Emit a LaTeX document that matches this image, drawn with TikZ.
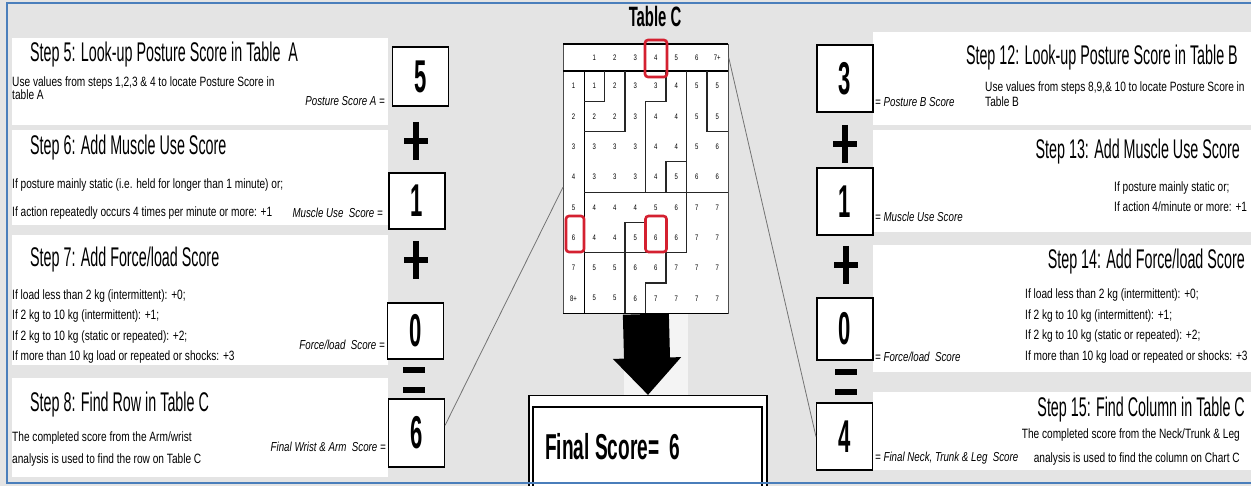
\documentclass[tikz,border=0pt]{standalone}
\usepackage{fontspec}
\usepackage{tikz}
\usetikzlibrary{arrows.meta,positioning,calc}
\setmainfont{Liberation Sans}
\newfontfamily\headfnt[FakeStretch=0.53]{Liberation Sans}
\newfontfamily\bodyfnt[FakeStretch=0.75]{Liberation Sans}
\newfontfamily\numfnt[FakeStretch=0.48]{Liberation Sans}
\definecolor{bggray}{HTML}{E4E4E4}
\definecolor{frameblue}{HTML}{4A7EBB}
\definecolor{pickred}{HTML}{D42030}

\begin{document}
\begin{tikzpicture}[x=1pt, y=-1pt,
  panel/.style={fill=white},
  steptitle/.style={font=\fontsize{27}{29}\selectfont\headfnt, inner sep=0pt},
  stepbody/.style={font=\fontsize{13.5}{#1}\selectfont\bodyfnt, align=left, inner sep=0pt},
  scorelabel/.style={font=\fontsize{13}{15}\selectfont\bodyfnt\itshape, inner sep=0pt},
  scorebox/.style={draw=black, line width=1.1pt, fill=white, minimum width=56pt,
                   minimum height=#1, inner sep=0pt,
                   font=\fontsize{46}{46}\selectfont\numfnt\bfseries},
  opbar/.style={line width=6pt},
  cell/.style={font=\fontsize{8}{8}\selectfont\bodyfnt, inner sep=0pt},
  zone/.style={line width=1.2pt, black!85},
  pick/.style={draw=pickred, line width=2.6pt, rounded corners=3pt},
  link/.style={draw=black!55, line width=0.8pt},
]
\useasboundingbox (0,0) rectangle (1251,486);
\fill[bggray] (0,0) rectangle (1251,486);

% Left panels
\fill[panel] (12,38) rectangle (388,125);
\fill[panel] (12,130) rectangle (388,225);
\fill[panel] (12,235) rectangle (388,365);
\fill[panel] (12,378) rectangle (388,477);

\node[steptitle, anchor=west] (t5) at (30,55) {Step 5: Look-up Posture Score in Table\ \ A};
\node[stepbody=13, anchor=west] (d5) at (12,88.5) {Use values from steps 1,2,3 \& 4 to locate Posture Score in\\table A};
\node[scorelabel, anchor=east] (l5) at (385,101) {Posture Score A =};

\node[steptitle, anchor=west] (t6) at (30,148) {Step 6: Add Muscle Use Score};
\node[stepbody=28, anchor=west] (d6) at (12,199) {If posture mainly static (i.e. held for longer than 1 minute) or;\\If action repeatedly occurs 4 times per minute or more: +1};
\node[scorelabel, anchor=east] (l6) at (383,213) {Muscle Use\ \ Score =};

\node[steptitle, anchor=west] (t7) at (30,260) {Step 7: Add Force/load Score};
\node[stepbody=20.3, anchor=west] (d7) at (12,326.5) {If load less than 2 kg (intermittent): +0;\\If 2 kg to 10 kg (intermittent): +1;\\If 2 kg to 10 kg (static or repeated): +2;\\If more than 10 kg load or repeated or shocks: +3};
\node[scorelabel, anchor=east] (l7) at (385,345) {Force/load\ \ Score =};

\node[steptitle, anchor=west] (t8) at (30,405) {Step 8: Find Row in Table C};
\node[stepbody=22, anchor=west] (d8) at (12,449) {The completed score from the Arm/wrist\\analysis is used to find the row on Table C};
\node[scorelabel, anchor=east] (l8) at (386,447) {Final Wrist \& Arm\ \ Score =};

% Left scores
\node[scorebox=59pt] (b5) at (420.5,76.5) {5};
\node[scorebox=56pt] (b6) at (417,201) {1};
\node[scorebox=56pt] (b7) at (415.5,331) {0};
\node[scorebox=68pt] (b8) at (416.5,433) {6};

% Right panels
\fill[panel] (873,32) rectangle (1251,125);
\fill[panel] (873,130) rectangle (1251,232);
\fill[panel] (873,245) rectangle (1251,372);
\fill[panel] (873,392) rectangle (1251,470);

\node[steptitle, anchor=east] (t12) at (1238,58) {Step 12: Look-up Posture Score in Table B};
\node[stepbody=15, anchor=west] (d12) at (985,94.5) {Use values from steps 8,9,\& 10 to locate Posture Score in\\Table B};
\node[scorelabel, anchor=west] (l12) at (875,102) {= Posture B Score};

\node[steptitle, anchor=east] (t13) at (1240,152) {Step 13: Add Muscle Use Score};
\node[stepbody=20, anchor=west] (d13) at (1114,197) {If posture mainly static or;\\If action 4/minute or more: +1};
\node[scorelabel, anchor=west] (l13) at (875,217) {= Muscle Use Score};

\node[steptitle, anchor=east] (t14) at (1245,262) {Step 14: Add Force/load Score};
\node[stepbody=20.7, anchor=west] (d14) at (1025,326) {If load less than 2 kg (intermittent): +0;\\If 2 kg to 10 kg (intermittent): +1;\\If 2 kg to 10 kg (static or repeated): +2;\\If more than 10 kg load or repeated or shocks: +3};
\node[scorelabel, anchor=west] (l14) at (875,357) {= Force/load\ \ Score};

\node[steptitle, anchor=east] (t15) at (1245,410) {Step 15: Find Column in Table C};
\node[stepbody=24, align=right, anchor=east] (d15) at (1240,447) {The completed score from the Neck/Trunk \& Leg\\analysis is used to find the column on Chart C};
\node[scorelabel, anchor=west] (l15) at (875,458) {= Final Neck, Trunk \& Leg\ \ Score};

% Right scores
\node[scorebox=67pt] (b12) at (845,78.5) {3};
\node[scorebox=67pt] (b13) at (845,201.5) {1};
\node[scorebox=62pt] (b14) at (845,329) {0};
\node[scorebox=67pt] (b15) at (844.5,436.5) {4};

% Operators
\foreach \px/\py in {416/141, 416/260, 845/144, 846/265} {
  \draw[opbar] (\px,\py-19) -- (\px,\py+19);
  \draw[opbar] (\px-12,\py) -- (\px+12,\py);
}
\foreach \px/\py in {414/370, 846/372.5} {
  \draw[opbar] (\px-11,\py) -- (\px+11,\py);
  \draw[opbar] (\px-11,\py+20) -- (\px+11,\py+20);
}

% Table C
\node[font=\fontsize{28}{28}\selectfont\headfnt\bfseries, inner sep=0pt] (tct) at (655,16) {Table C};
\fill[white!60!bggray] (624,313) rectangle (688,397);
\node[draw=black!70, line width=0.7pt, fill=white, minimum width=165pt, minimum height=269.4pt,
      inner sep=0pt, anchor=north west] (tc) at (563,44) {};
\draw[line width=1.6pt] (563,44) -- (728,44);
\draw[line width=1.6pt] (563,71) -- (728,71);
\draw[line width=1.6pt] (563,313.4) -- (728,313.4);
\draw[line width=1pt] (584,71) -- (584,313.4);

\foreach \t [count=\c] in {1,2,3,4,5,6,7+}
  \node[cell] (h\c) at ({584+20.5*(\c-0.5)},57.5) {\t};
\foreach \t [count=\r] in {1,2,3,4,5,6,7,8+}
  \node[cell] (r\r) at (573.5,{71+30.3*(\r-0.5)}) {\t};
\foreach \vals [count=\r] in {{1,2,3,3,4,5,5},{2,2,3,4,4,5,5},{3,3,3,4,4,5,6},{3,3,3,4,5,6,6},
                              {4,4,4,5,6,7,7},{4,4,5,6,6,7,7},{5,5,6,6,7,7,7},{5,5,6,7,7,7,7}}
  \foreach \v [count=\c] in \vals
    \node[cell] (c\r\c) at ({584+20.5*(\c-0.5)},{71+30.3*(\r-0.5)}) {\v};

% score zones
\draw[zone] (604.5,71) |- (584,101.3);
\draw[zone] (625,71) |- (584,131.6);
\draw[zone] (666,71) |- (645.5,101.3) -- (645.5,192.2);
\draw[zone] (686.5,71) -- (686.5,252.8);
\draw[zone] (686.5,161.9) -| (666,192.2);
\draw[zone] (707,71) |- (727.5,131.6);
\draw[zone] (584,192.2) -- (727.5,192.2);
\draw[zone] (625,313.4) |- (645.5,222.5) -- (645.5,252.8);
\draw[zone] (584,252.8) -- (686.5,252.8);
\draw[zone] (666,252.8) |- (645.5,283.1) -- (645.5,313.4);

% picked row / column
\draw[pick] (645,40) rectangle (667,77);
\draw[pick] (566,216) rectangle (584,252);
\draw[pick] (645.5,216) rectangle (666.5,252);

% Final score
\node[draw, line width=1.4pt, fill=white, anchor=north, minimum width=238pt, minimum height=95pt,
      inner sep=0pt] (fs) at (648,395) {};
\node[draw, line width=1.6pt, anchor=north, minimum width=229pt, minimum height=85pt,
      inner sep=0pt] (fsi) at (647.5,406) {};
\node[font=\fontsize{36}{36}\selectfont\headfnt\bfseries, anchor=west, inner sep=0pt] (fst) at (545,447) {Final Score=\ \ 6};

\draw[line width=46pt, -{Triangle[length=37pt, width=66pt]}] (tc.south) -- (fs.north);

% Links into Table C
\coordinate (tcl) at ($(tc.north west)!0.53!(tc.south west)$);
\coordinate (tcr) at ($(tc.north east)!0.05!(tc.south east)$);
\draw[link] (b8.15) -- (tcl);
\draw[link] (b15.west) -- (tcr);

\draw[frameblue, line width=2pt] (1251,3) -- (7,3) -- (7,483) -- (1251,483);
\end{tikzpicture}
\end{document}
